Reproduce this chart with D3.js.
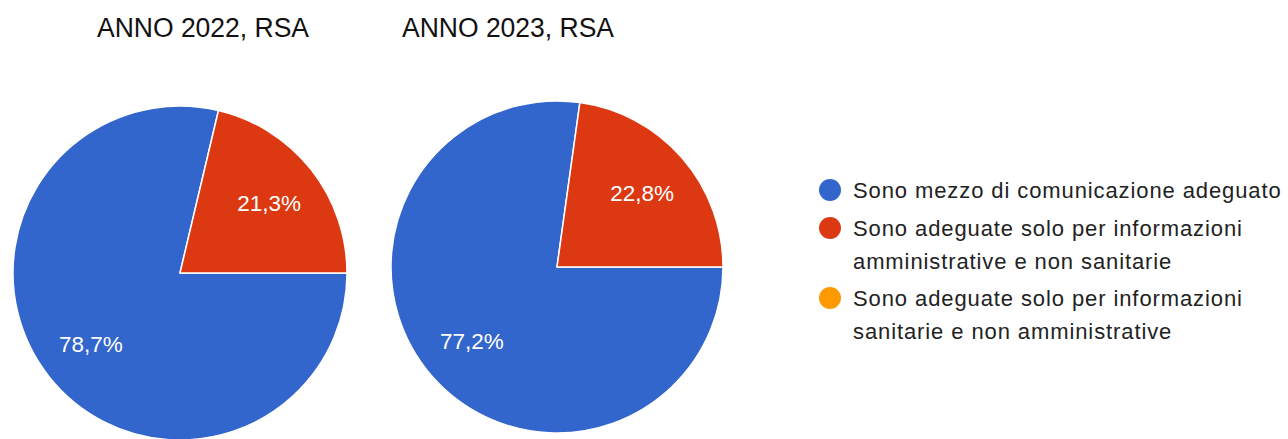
<!DOCTYPE html>
<html>
<head>
<meta charset="utf-8">
<script src="https://cdn.jsdelivr.net/npm/d3@7"></script>
<style>
  html, body { margin: 0; padding: 0; background: #fff; }
  svg { display: block; }
</style>
</head>
<body>
<svg id="chart" width="1288" height="439"></svg>
<script>
// Response categories (shared legend)
const categories = [
  "Sono mezzo di comunicazione adeguato",
  "Sono adeguate solo per informazioni amministrative e non sanitarie",
  "Sono adeguate solo per informazioni sanitarie e non amministrative"
];
// Legend lines as wrapped
const legendLines = [
  ["Sono mezzo di comunicazione adeguato"],
  ["Sono adeguate solo per informazioni", "amministrative e non sanitarie"],
  ["Sono adeguate solo per informazioni", "sanitarie e non amministrative"]
];
const colors = ["#3366CC", "#DC3912", "#FF9900"];

// Pie titles and percentages per year
const titles = ["ANNO 2022, RSA", "ANNO 2023, RSA"];
const values2022 = [78.7, 21.3, 0];
const values2023 = [77.2, 22.8, 0];

const svg = d3.select("#chart");
const fmt = v => d3.format(".1f")(v).replace(".", ",") + "%";

// Slices run clockwise starting from 3 o'clock
const pieGen = d3.pie()
  .sort(null)
  .value(d => d)
  .startAngle(Math.PI / 2)
  .endAngle(Math.PI / 2 + 2 * Math.PI);

const pies = [
  { title: titles[0], values: values2022, cx: 180, cy: 273, r: 167, tx: 203 },
  { title: titles[1], values: values2023, cx: 557, cy: 267, r: 166, tx: 508 }
];

pies.forEach(p => {
  svg.append("text")
    .attr("x", p.tx)
    .attr("y", 37)
    .attr("text-anchor", "middle")
    .attr("font-family", "'Liberation Sans', Arial, sans-serif")
    .attr("font-size", 27)
    .attr("textLength", 212)
    .attr("lengthAdjust", "spacingAndGlyphs")
    .attr("fill", "#111")
    .text(p.title);

  const g = svg.append("g").attr("transform", `translate(${p.cx},${p.cy})`);
  const arc = d3.arc().innerRadius(0).outerRadius(p.r);
  const labelArc = d3.arc().innerRadius(p.r * 0.68).outerRadius(p.r * 0.68);
  const arcs = pieGen(p.values).filter(d => d.value > 0);

  g.selectAll("path").data(arcs).join("path")
    .attr("d", arc)
    .attr("fill", d => colors[d.index])
    .attr("stroke", "#fff")
    .attr("stroke-width", 1.5)
    .attr("stroke-linejoin", "round");

  g.selectAll("text").data(arcs).join("text")
    .attr("transform", d => `translate(${labelArc.centroid(d)})`)
    .attr("text-anchor", "middle")
    .attr("dy", "0.36em")
    .attr("font-family", "'Liberation Sans', Arial, sans-serif")
    .attr("font-size", 22.5)
    .attr("fill", "#fff")
    .text(d => fmt(d.value));
});

// Legend
const legend = svg.append("g");
const itemY = [190, 228, 298];
const lineH = 33;
legendLines.forEach((lines, i) => {
  legend.append("circle")
    .attr("cx", 830)
    .attr("cy", itemY[i])
    .attr("r", 11)
    .attr("fill", colors[i]);
  lines.forEach((ln, j) => {
    legend.append("text")
      .attr("x", 853)
      .attr("y", itemY[i] + j * lineH)
      .attr("dy", "0.35em")
      .attr("font-family", "'Liberation Sans', Arial, sans-serif")
      .attr("font-size", 22)
      .attr("letter-spacing", 0.9)
      .attr("fill", "#222")
      .text(ln);
  });
});
</script>
</body>
</html>
